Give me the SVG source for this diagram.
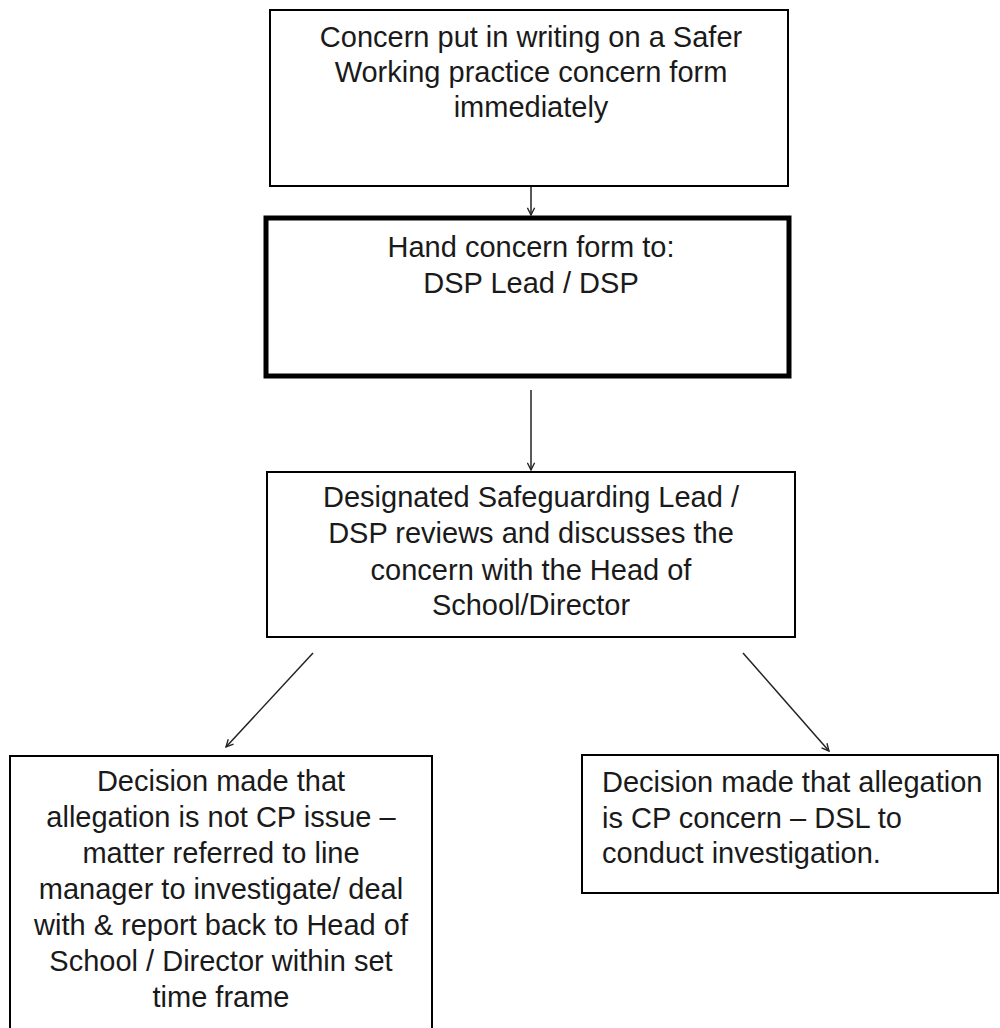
<svg xmlns="http://www.w3.org/2000/svg" width="1000" height="1028" viewBox="0 0 1000 1028">
<style>
.box{fill:#fff;stroke:#000;stroke-width:2}
.thick{stroke-width:5}
.t{font-family:"Liberation Sans",Arial,sans-serif;font-size:29px;fill:#1a1a1a}
.c{text-anchor:middle}
.conn{stroke:#222;stroke-width:1.5;fill:none;marker-end:url(#ah)}
</style>
<defs>
<marker id="ah" viewBox="0 0 10 10" refX="9" refY="5" markerWidth="9" markerHeight="9" markerUnits="userSpaceOnUse" orient="auto">
<path d="M1,1 L9,5 L1,9" fill="none" stroke="#222" stroke-width="1.5"/>
</marker>
</defs>
<rect width="1000" height="1028" fill="#fff"/>
<g id="connectors">
<line class="conn" x1="531" y1="186" x2="531" y2="215"/>
<line class="conn" x1="531" y1="390" x2="531" y2="470"/>
<line class="conn" x1="313" y1="653" x2="226" y2="747"/>
<line class="conn" x1="743" y1="653" x2="829" y2="751"/>
</g>
<g id="n1">
<rect class="box" x="270" y="10" width="518" height="176"/>
<text class="t c" x="531" y="47">Concern put in writing on a Safer</text>
<text class="t c" x="531" y="82">Working practice concern form</text>
<text class="t c" x="531" y="117">immediately</text>
</g>
<g id="n2">
<rect class="box thick" x="266" y="218" width="523" height="158"/>
<text class="t c" x="531" y="257">Hand concern form to:</text>
<text class="t c" x="531" y="293">DSP Lead / DSP</text>
</g>
<g id="n3">
<rect class="box" x="267" y="472" width="528" height="165"/>
<text class="t c" x="531" y="507">Designated Safeguarding Lead /</text>
<text class="t c" x="531" y="543">DSP reviews and discusses the</text>
<text class="t c" x="531" y="580">concern with the Head of</text>
<text class="t c" x="531" y="615">School/Director</text>
</g>
<g id="n4">
<rect class="box" x="10" y="756" width="422" height="290"/>
<text class="t c" x="221" y="791">Decision made that</text>
<text class="t c" x="221" y="827">allegation is not CP issue –</text>
<text class="t c" x="221" y="863">matter referred to line</text>
<text class="t c" x="221" y="899">manager to investigate/ deal</text>
<text class="t c" x="221" y="935">with &amp; report back to Head of</text>
<text class="t c" x="221" y="971">School / Director within set</text>
<text class="t c" x="221" y="1007">time frame</text>
</g>
<g id="n5">
<rect class="box" x="582" y="755" width="416" height="138"/>
<text class="t" x="602" y="792">Decision made that allegation</text>
<text class="t" x="602" y="828">is CP concern – DSL to</text>
<text class="t" x="602" y="863">conduct investigation.</text>
</g>
</svg>
